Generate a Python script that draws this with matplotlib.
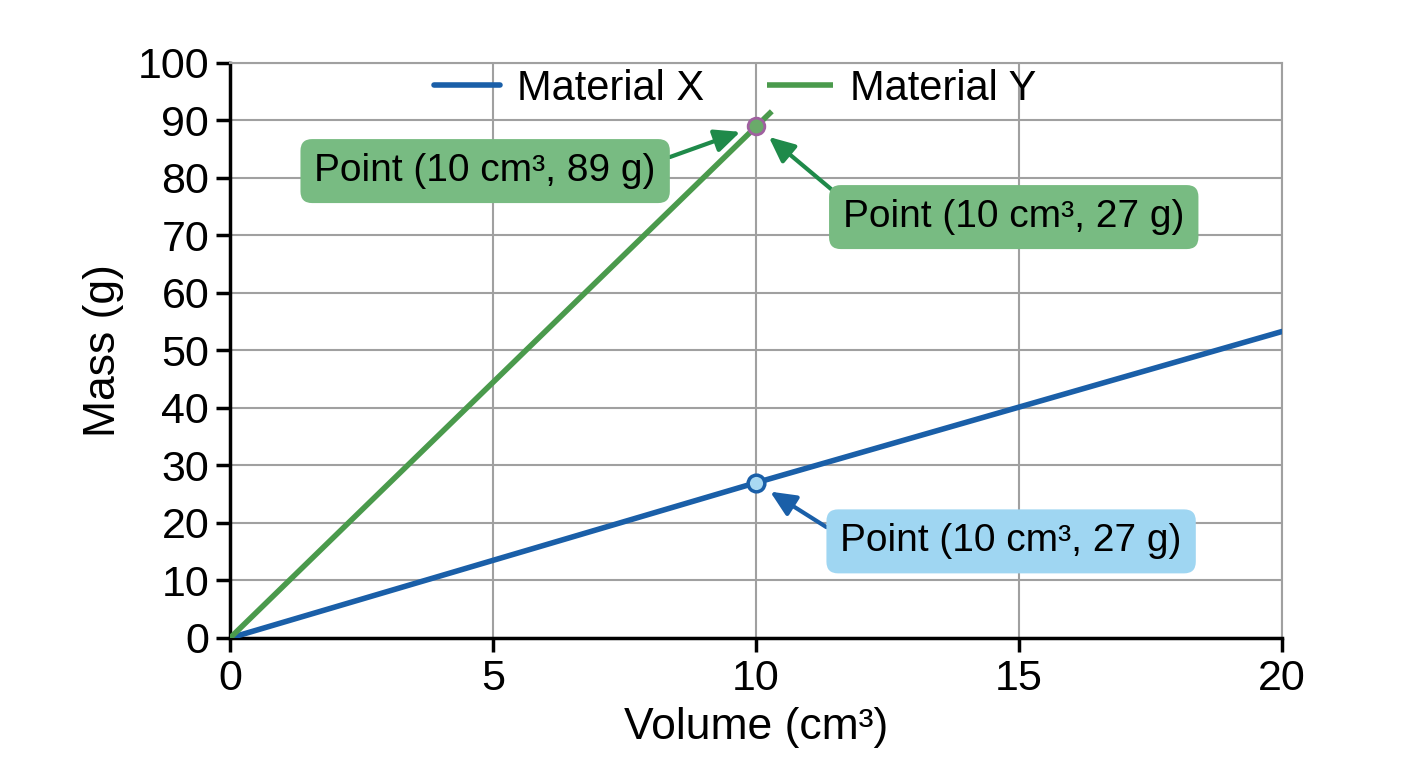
import matplotlib.pyplot as plt

plt.rcParams['font.family'] = ['Liberation Sans', 'DejaVu Sans']

# data
vol_x = [0, 10, 20]
mass_x = [0, 27, 53.3]
vol_y = [0, 10.3]
mass_y = [0, 91.6]
point_x = (10, 27)
point_y = (10, 89)

blue = '#1a5fa8'
green = '#4a9a4c'

fig = plt.figure(figsize=(14.08, 7.68), dpi=100)
ax = fig.add_axes([0.1634, 0.1693, 0.7471, 0.7487])

ax.plot(vol_x, mass_x, color=blue, lw=4, label='Material X', solid_capstyle='round', zorder=3)
ax.plot(vol_y, mass_y, color=green, lw=4, label='Material Y', solid_capstyle='butt', zorder=3)
ax.plot(*point_x, 'o', ms=12, mfc='#a9d9f2', mec=blue, mew=2.5, zorder=4)
ax.plot(*point_y, 'o', ms=12, mfc='#6aaa6a', mec='#a060a0', mew=2, zorder=4)

ax.set_xlim(0, 20)
ax.set_ylim(0, 100)
ax.set_xticks([0, 5, 10, 15, 20])
ax.set_yticks(range(0, 101, 10))
ax.grid(True, color='#a0a0a0', lw=1.5)
ax.set_axisbelow(True)
for s in ['top', 'right']:
    ax.spines[s].set_color('#a0a0a0')
    ax.spines[s].set_linewidth(1.5)
for s in ['left', 'bottom']:
    ax.spines[s].set_linewidth(2.5)
ax.tick_params(labelsize=31, width=2.5, length=10, pad=5)
ax.set_xlabel('Volume (cm³)', fontsize=32, labelpad=6)
ax.set_ylabel('Mass (g)', fontsize=32, labelpad=10)

ax.legend(loc='upper center', ncol=2, frameon=False, fontsize=30,
          handlelength=1.6, handletextpad=0.4, columnspacing=1.5,
          bbox_to_anchor=(0.48, 1.055))

fs = 28
head = '-|>,head_length=0.55,head_width=0.25'
box_g = dict(boxstyle='round,pad=0.36,rounding_size=0.3', fc='#78bb82', ec='none')
box_b = dict(boxstyle='round,pad=0.36,rounding_size=0.3', fc='#9fd6f2', ec='none')

ax.annotate('Point (10 cm³, 89 g)', xy=point_y, xytext=(4.85, 81.2), fontsize=fs,
            ha='center', va='center', bbox=box_g,
            arrowprops=dict(arrowstyle=head, color='#1f8a4a', lw=3, relpos=(1.0, 0.75),
                            shrinkA=0, shrinkB=12))
ax.annotate('Point (10 cm³, 27 g)', xy=point_y, xytext=(14.9, 73.2), fontsize=fs,
            ha='center', va='center', bbox=box_g,
            arrowprops=dict(arrowstyle=head, color='#1f8a4a', lw=3, relpos=(0.0, 1.0),
                            shrinkA=0, shrinkB=12))
ax.annotate('Point (10 cm³, 27 g)', xy=point_x, xytext=(14.85, 16.8), fontsize=fs,
            ha='center', va='center', bbox=box_b,
            arrowprops=dict(arrowstyle=head, color=blue, lw=3, relpos=(0.0, 0.65),
                            shrinkA=0, shrinkB=12))

fig.savefig('out.png', dpi=100)
